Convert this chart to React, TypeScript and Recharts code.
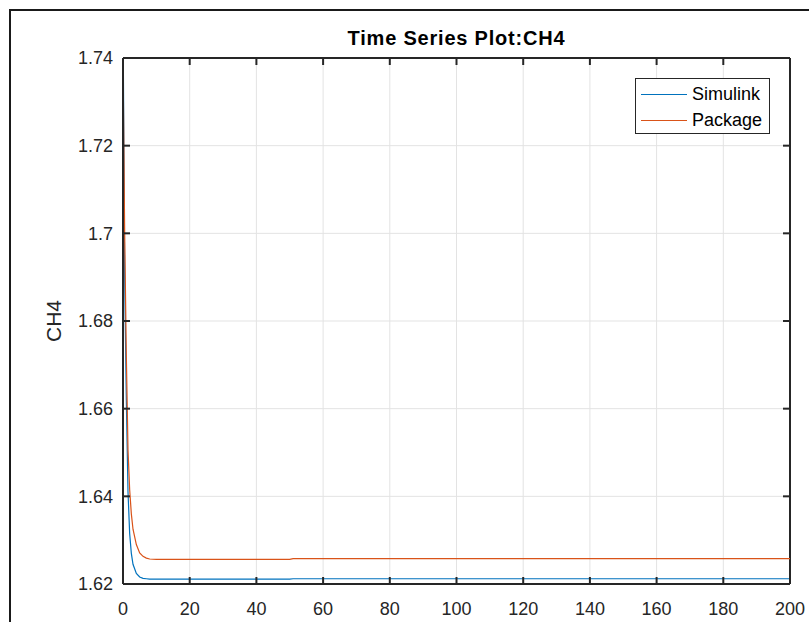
import { LineChart, Line, XAxis, YAxis, CartesianGrid, Legend } from "recharts";

// sample times (s) shared by both runs
const time = [0, 0.05, 0.5, 1, 1.5, 2, 2.5, 3, 4, 5, 6, 7, 8, 10, 20, 50, 51, 100, 150, 200];
const simulink = [1.62, 1.745, 1.69, 1.662, 1.641, 1.6315, 1.627, 1.6245, 1.6224, 1.6216, 1.6213, 1.6212, 1.6211, 1.6211, 1.6211, 1.6211, 1.6212, 1.6212, 1.6212, 1.6212];
const pkg = [1.63, 1.736, 1.7, 1.672, 1.6506, 1.6415, 1.636, 1.6325, 1.629, 1.6271, 1.6263, 1.6259, 1.6257, 1.6256, 1.6256, 1.6256, 1.6258, 1.6258, 1.6258, 1.6258];

const xTicks = [0, 20, 40, 60, 80, 100, 120, 140, 160, 180, 200];
const yTicks = [1.62, 1.64, 1.66, 1.68, 1.7, 1.72, 1.74];

const series = [
  { key: "simulink", name: "Simulink", color: "#0072BD" },
  { key: "pkg", name: "Package", color: "#D95319" },
];

const data = time.map((t, i) => ({ t, simulink: simulink[i], pkg: pkg[i] }));

const FONT = "'Liberation Sans', Arial, Helvetica, sans-serif";
const AXIS = "#262626";
const TICK_LEN = 7;

const W = 809;
const H = 622;
const MARGIN = { top: 58, right: 19, bottom: 0, left: 0 };
const Y_AXIS_W = 123;
const X_AXIS_H = 38;
const PLOT_W = W - MARGIN.left - MARGIN.right - Y_AXIS_W;
const PLOT_H = H - MARGIN.top - MARGIN.bottom - X_AXIS_H;

const fmtY = (v: number) => String(Number(v.toFixed(2)));

// inward tick marks on all four sides (boxed axes)
function LeftTick(props: any) {
  const { x, y, payload } = props;
  const xr = x + PLOT_W;
  return (
    <g>
      <line x1={x} x2={x + TICK_LEN} y1={y} y2={y} stroke={AXIS} strokeWidth={2} />
      <line x1={xr} x2={xr - TICK_LEN} y1={y} y2={y} stroke={AXIS} strokeWidth={2} />
      <text x={x - 10} y={y} dy="0.355em" textAnchor="end" fill={AXIS} fontSize={18} fontFamily={FONT}>
        {fmtY(payload.value)}
      </text>
    </g>
  );
}

function BottomTick(props: any) {
  const { x, y, payload } = props;
  const yt = y - PLOT_H;
  return (
    <g>
      <line x1={x} x2={x} y1={y} y2={y - TICK_LEN} stroke={AXIS} strokeWidth={2} />
      <line x1={x} x2={x} y1={yt} y2={yt + TICK_LEN} stroke={AXIS} strokeWidth={2} />
      <text x={x} y={y + 31} textAnchor="middle" fill={AXIS} fontSize={18} fontFamily={FONT}>
        {payload.value}
      </text>
    </g>
  );
}

function LegendBox() {
  return (
    <div
      style={{
        width: 133,
        height: 54,
        border: "1px solid #262626",
        background: "#fff",
        fontFamily: FONT,
        fontSize: 18,
        color: "#000",
        position: "relative",
      }}
    >
      {series.map((s, i) => (
        <div key={s.key} style={{ position: "absolute", left: 5, top: 4 + i * 26, height: 22, display: "flex", alignItems: "center" }}>
          <span style={{ display: "inline-block", width: 46, height: 1, background: s.color }} />
          <span style={{ marginLeft: 5 }}>{s.name}</span>
        </div>
      ))}
    </div>
  );
}

export default function App() {
  return (
    <div style={{ position: "fixed", inset: 0, overflow: "hidden", background: "#fff" }}>
      <div style={{ position: "absolute", left: 9, top: 9, width: 900, height: 700, borderLeft: "2px solid #1a1a1a", borderTop: "2px solid #1a1a1a" }} />
      <div
        style={{
          position: "absolute",
          left: 123,
          width: PLOT_W,
          top: 27,
          textAlign: "center",
          fontFamily: FONT,
          fontWeight: "bold",
          fontSize: 20,
          letterSpacing: 0.8,
          color: "#000",
        }}
      >
        Time Series Plot:CH4
      </div>
      <div
        style={{
          position: "absolute",
          left: 54,
          top: 321,
          transform: "translate(-50%, -50%) rotate(-90deg)",
          fontFamily: FONT,
          fontSize: 21,
          color: AXIS,
          whiteSpace: "nowrap",
        }}
      >
        CH4
      </div>
      <LineChart
        width={W}
        height={H}
        data={data}
        margin={MARGIN}
        style={{ position: "absolute", left: 0, top: 0 }}
      >
        <CartesianGrid stroke="#e3e3e3" strokeWidth={1} />
        {/* top and right edges of the box */}
        <line x1={Y_AXIS_W} x2={Y_AXIS_W + PLOT_W} y1={MARGIN.top} y2={MARGIN.top} stroke={AXIS} strokeWidth={2} />
        <line x1={Y_AXIS_W + PLOT_W} x2={Y_AXIS_W + PLOT_W} y1={MARGIN.top} y2={MARGIN.top + PLOT_H} stroke={AXIS} strokeWidth={2} />
        <XAxis
          dataKey="t"
          type="number"
          domain={[0, 200]}
          ticks={xTicks}
          height={X_AXIS_H}
          tickSize={0}
          tickMargin={0}
          tickLine={false}
          tick={<BottomTick />}
          stroke={AXIS}
          strokeWidth={2}
          allowDataOverflow
        />
        <YAxis
          type="number"
          domain={[1.62, 1.74]}
          ticks={yTicks}
          width={Y_AXIS_W}
          tickSize={0}
          tickMargin={0}
          tickLine={false}
          tick={<LeftTick />}
          stroke={AXIS}
          strokeWidth={2}
          allowDataOverflow
        />
        <Legend
          layout="vertical"
          align="center"
          verticalAlign="middle"
          wrapperStyle={{ left: 635, top: 78, width: 135, height: 56 }}
          content={() => <LegendBox />}
        />
        {series.map((s) => (
          <Line
            key={s.key}
            dataKey={s.key}
            name={s.name}
            stroke={s.color}
            strokeWidth={1.2}
            dot={false}
            type="linear"
            isAnimationActive={false}
          />
        ))}
      </LineChart>
    </div>
  );
}
